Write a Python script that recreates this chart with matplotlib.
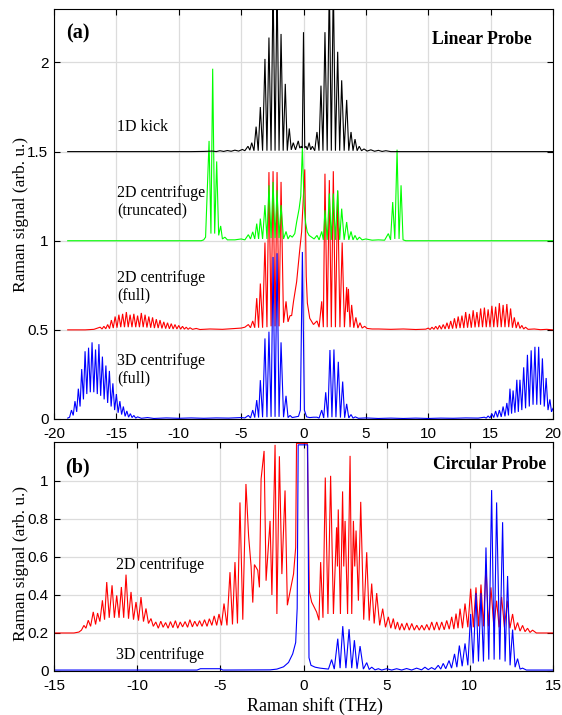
import matplotlib
matplotlib.use("Agg")
import matplotlib.pyplot as plt
import numpy as np
from matplotlib.ticker import FuncFormatter

plt.rcParams["axes.unicode_minus"] = False
plt.rcParams["font.family"] = ["Liberation Sans", "DejaVu Sans"]
SERIF = ["Liberation Serif", "DejaVu Serif"]

# ---- panel (a): linear probe, traces as (shift THz, signal) ----
kick_1d = [
    (-18.9, 1.5), (-9.0, 1.5), (-8.0, 1.501), (-7.3, 1.503), (-7.0, 1.5), (-6.7, 1.505),
    (-6.4, 1.501), (-6.1, 1.506), (-5.8, 1.502), (-5.5, 1.508), (-5.2, 1.503), (-4.9, 1.512),
    (-4.7, 1.505), (-4.45, 1.53), (-4.3, 1.508), (-4.15, 1.55), (-3.97, 1.505), (-3.80, 1.64),
    (-3.63, 1.505), (-3.46, 1.75), (-3.28, 1.505), (-3.09, 2.02), (-2.93, 1.505), (-2.77, 2.14),
    (-2.60, 1.505), (-2.44, 2.45), (-2.28, 1.505), (-2.12, 2.45), (-1.96, 1.505), (-1.80, 2.16),
    (-1.63, 1.505), (-1.46, 1.88), (-1.30, 1.505), (-1.14, 1.63), (-0.98, 1.51), (-0.82, 1.55),
    (-0.64, 1.51), (-0.42, 1.56), (-0.30, 1.52), (-0.18, 1.53), (-0.10, 1.52), (0.0, 2.17),
    (0.10, 1.52), (0.20, 1.53), (0.30, 1.51), (0.45, 1.55), (0.58, 1.51), (0.71, 1.53),
    (0.90, 1.505), (1.08, 1.61), (1.24, 1.505), (1.40, 1.87), (1.56, 1.505), (1.72, 2.17),
    (1.90, 1.505), (2.07, 2.45), (2.23, 1.505), (2.39, 2.45), (2.56, 1.505), (2.74, 2.06),
    (2.90, 1.505), (3.06, 1.90), (3.26, 1.505), (3.46, 1.79), (3.63, 1.505), (3.81, 1.61),
    (3.97, 1.505), (4.13, 1.57), (4.30, 1.505), (4.47, 1.53), (4.65, 1.505), (4.85, 1.515),
    (5.1, 1.503), (5.4, 1.51), (5.7, 1.502), (6.0, 1.507), (6.3, 1.501), (6.6, 1.505),
    (7.0, 1.5), (20.0, 1.5),
]

centrifuge_2d_trunc = [
    (-18.9, 1.0), (-8.2, 1.0), (-8.0, 1.005), (-7.85, 1.02), (-7.57, 1.56), (-7.42, 1.04),
    (-7.28, 1.965), (-7.12, 1.04), (-6.96, 1.445), (-6.80, 1.03), (-6.64, 1.083), (-6.50, 1.01),
    (-6.3, 1.02), (-6.1, 1.005), (-5.5, 1.005), (-5.0, 1.01), (-4.7, 1.005), (-4.42, 1.034),
    (-4.25, 1.01), (-4.07, 1.05), (-3.91, 1.01), (-3.75, 1.096), (-3.60, 1.01), (-3.46, 1.124),
    (-3.28, 1.01), (-3.09, 1.20), (-2.93, 1.01), (-2.77, 1.311), (-2.60, 1.015), (-2.44, 1.33),
    (-2.28, 1.015), (-2.12, 1.283), (-1.96, 1.015), (-1.80, 1.20), (-1.60, 1.01), (-1.40, 1.052),
    (-1.24, 1.01), (-1.08, 1.03), (-0.90, 1.02), (-0.70, 1.04), (-0.55, 1.105), (-0.35, 1.18),
    (-0.22, 1.25), (-0.09, 1.526), (0.05, 1.20), (0.17, 1.10), (0.30, 1.05), (0.45, 1.03),
    (0.65, 1.02), (0.85, 1.01), (1.08, 1.03), (1.25, 1.005), (1.46, 1.052), (1.59, 1.005),
    (1.72, 1.171), (1.90, 1.005), (2.07, 1.265), (2.23, 1.005), (2.39, 1.265), (2.56, 1.005),
    (2.74, 1.283), (2.90, 1.005), (3.06, 1.18), (3.26, 1.005), (3.46, 1.105), (3.63, 1.005),
    (3.81, 1.052), (3.97, 1.005), (4.13, 1.03), (4.30, 1.005), (4.48, 1.02), (4.70, 1.005),
    (5.0, 1.01), (5.5, 1.003), (6.0, 1.005), (6.5, 1.003), (6.80, 1.04), (6.98, 1.005),
    (7.15, 1.217), (7.32, 1.01), (7.50, 1.511), (7.66, 1.01), (7.82, 1.311), (7.98, 1.005),
    (8.2, 1.0), (20.0, 1.0),
]

centrifuge_2d_full = [
    (-18.9, 0.5), (-17.5, 0.5), (-16.8, 0.503), (-16.6, 0.508),
    (-16.30, 0.515), (-16.15, 0.505), (-16.00, 0.52), (-15.85, 0.506), (-15.70, 0.53),
    (-15.55, 0.507), (-15.40, 0.555), (-15.25, 0.51), (-15.10, 0.575), (-14.95, 0.512),
    (-14.80, 0.585), (-14.65, 0.515), (-14.50, 0.59), (-14.35, 0.515), (-14.20, 0.60),
    (-14.05, 0.515), (-13.90, 0.585), (-13.75, 0.515), (-13.60, 0.59), (-13.45, 0.515),
    (-13.30, 0.58), (-13.15, 0.515), (-13.00, 0.595), (-12.85, 0.515), (-12.70, 0.585),
    (-12.55, 0.513), (-12.40, 0.575), (-12.25, 0.512), (-12.10, 0.57), (-11.95, 0.51),
    (-11.80, 0.56), (-11.65, 0.51), (-11.50, 0.555), (-11.35, 0.508), (-11.20, 0.545),
    (-11.05, 0.507), (-10.90, 0.54), (-10.75, 0.506), (-10.60, 0.535), (-10.45, 0.505),
    (-10.30, 0.53), (-10.15, 0.505), (-10.00, 0.525), (-9.85, 0.504), (-9.70, 0.52),
    (-9.55, 0.504), (-9.40, 0.515), (-9.25, 0.503), (-9.10, 0.512), (-8.9, 0.503),
    (-8.6, 0.508), (-8.3, 0.502), (-7.5, 0.505), (-6.5, 0.503), (-5.5, 0.508), (-5.0, 0.51),
    (-4.7, 0.515), (-4.42, 0.53), (-4.25, 0.512), (-4.07, 0.55), (-3.91, 0.512), (-3.75, 0.678),
    (-3.60, 0.512), (-3.46, 0.76), (-3.28, 0.512), (-3.09, 0.99), (-2.93, 0.515), (-2.77, 1.385),
    (-2.60, 0.52), (-2.44, 1.39), (-2.28, 0.52), (-2.12, 1.385), (-1.96, 0.52), (-1.80, 1.33),
    (-1.60, 0.54), (-1.40, 0.66), (-1.24, 0.545), (-1.08, 0.58), (-0.95, 0.58), (-0.80, 0.66),
    (-0.55, 0.77), (-0.30, 0.95), (-0.15, 1.05), (0.10, 1.40), (0.22, 0.80), (0.31, 0.65),
    (0.50, 0.565), (0.80, 0.53), (1.08, 0.55), (1.25, 0.515), (1.46, 0.66), (1.59, 0.515),
    (1.72, 1.376), (1.90, 0.515), (2.07, 1.34), (2.23, 0.515), (2.39, 1.39), (2.56, 0.515),
    (2.74, 1.28), (2.92, 0.515), (3.10, 0.99), (3.28, 0.515), (3.46, 0.74), (3.53, 0.60),
    (3.60, 0.73), (3.73, 0.515), (3.86, 0.64), (4.03, 0.512), (4.20, 0.57), (4.36, 0.51),
    (4.53, 0.54), (4.7, 0.51), (4.9, 0.52), (5.1, 0.508), (5.5, 0.505), (6.0, 0.505),
    (7.0, 0.503), (8.0, 0.505), (9.0, 0.502), (9.8, 0.504),
    (10.00, 0.51), (10.15, 0.502), (10.30, 0.515), (10.45, 0.503), (10.60, 0.52),
    (10.75, 0.503), (10.90, 0.525), (11.05, 0.504), (11.20, 0.53), (11.35, 0.505),
    (11.50, 0.54), (11.65, 0.505), (11.80, 0.55), (11.95, 0.507), (12.10, 0.565),
    (12.25, 0.508), (12.40, 0.575), (12.55, 0.51), (12.70, 0.58), (12.85, 0.51), (13.00, 0.60),
    (13.15, 0.512), (13.30, 0.59), (13.45, 0.512), (13.60, 0.61), (13.75, 0.514), (13.90, 0.60),
    (14.05, 0.515), (14.20, 0.62), (14.35, 0.515), (14.50, 0.625), (14.65, 0.515),
    (14.80, 0.615), (14.95, 0.515), (15.10, 0.635), (15.25, 0.515), (15.40, 0.63),
    (15.55, 0.515), (15.70, 0.65), (15.85, 0.515), (16.00, 0.64), (16.15, 0.515),
    (16.30, 0.645), (16.45, 0.515), (16.60, 0.62), (16.75, 0.512), (16.90, 0.57),
    (17.05, 0.51), (17.20, 0.545), (17.35, 0.508), (17.50, 0.525), (17.65, 0.505),
    (17.80, 0.515), (18.0, 0.503), (18.5, 0.505), (19.0, 0.501), (19.5, 0.503), (20.0, 0.5),
]

centrifuge_3d_full = [
    (-18.9, 0.005), (-18.75, 0.01), (-18.60, 0.05), (-18.46, 0.02), (-18.32, 0.10),
    (-18.18, 0.04), (-18.05, 0.17), (-17.91, 0.07), (-17.78, 0.28), (-17.64, 0.11),
    (-17.51, 0.38), (-17.37, 0.14), (-17.23, 0.40), (-17.09, 0.15), (-16.95, 0.43),
    (-16.81, 0.15), (-16.67, 0.39), (-16.53, 0.14), (-16.40, 0.42), (-16.26, 0.13),
    (-16.12, 0.35), (-15.98, 0.11), (-15.84, 0.30), (-15.70, 0.09), (-15.56, 0.27),
    (-15.42, 0.07), (-15.28, 0.20), (-15.14, 0.05), (-15.00, 0.14), (-14.86, 0.035),
    (-14.72, 0.10), (-14.58, 0.025), (-14.44, 0.07), (-14.30, 0.015), (-14.16, 0.045),
    (-14.02, 0.01), (-13.88, 0.03), (-13.74, 0.008), (-13.60, 0.02), (-13.45, 0.005),
    (-13.30, 0.012), (-13.0, 0.004), (-12.5, 0.008), (-12.0, 0.003), (-11.0, 0.006),
    (-10.0, 0.004), (-9.0, 0.006), (-8.0, 0.004), (-7.0, 0.006), (-6.0, 0.005), (-5.0, 0.008),
    (-4.7, 0.006), (-4.42, 0.02), (-4.25, 0.006), (-4.07, 0.05), (-3.91, 0.008), (-3.75, 0.106),
    (-3.60, 0.008), (-3.46, 0.218), (-3.28, 0.01), (-3.09, 0.452), (-2.93, 0.01), (-2.77, 0.49),
    (-2.60, 0.012), (-2.44, 0.909), (-2.28, 0.012), (-2.12, 0.93), (-1.96, 0.012), (-1.80, 0.43),
    (-1.60, 0.01), (-1.40, 0.13), (-1.24, 0.008), (-1.08, 0.02), (-0.90, 0.008), (-0.60, 0.012),
    (-0.40, 0.015), (-0.25, 0.05), (-0.09, 0.937), (0.07, 0.05), (0.25, 0.012), (0.50, 0.008),
    (0.80, 0.01), (1.08, 0.01), (1.25, 0.005), (1.46, 0.05), (1.62, 0.006), (1.78, 0.15),
    (1.95, 0.008), (2.12, 0.387), (2.28, 0.01), (2.44, 0.39), (2.60, 0.01), (2.79, 0.321),
    (2.96, 0.008), (3.14, 0.21), (3.30, 0.007), (3.46, 0.085), (3.63, 0.006), (3.81, 0.025),
    (3.97, 0.005), (4.15, 0.012), (4.4, 0.004), (5.0, 0.006), (6.0, 0.003), (7.0, 0.005),
    (8.0, 0.003), (9.0, 0.005), (10.0, 0.003), (11.0, 0.005), (12.0, 0.004), (13.0, 0.006),
    (14.0, 0.005), (14.5, 0.01), (14.65, 0.005), (14.8, 0.017), (14.95, 0.006), (15.1, 0.03),
    (15.25, 0.008), (15.4, 0.045), (15.55, 0.01), (15.7, 0.05), (15.85, 0.012), (16.0, 0.07),
    (16.15, 0.015), (16.3, 0.09), (16.43, 0.02), (16.55, 0.17), (16.68, 0.03), (16.8, 0.16),
    (16.95, 0.035), (17.1, 0.22), (17.22, 0.04), (17.35, 0.22), (17.5, 0.05), (17.65, 0.29),
    (17.8, 0.06), (17.95, 0.36), (18.1, 0.07), (18.25, 0.385), (18.4, 0.08), (18.55, 0.405),
    (18.7, 0.08), (18.85, 0.405), (19.0, 0.08), (19.15, 0.34), (19.3, 0.07), (19.45, 0.23),
    (19.6, 0.05), (19.75, 0.11), (19.88, 0.04), (20.0, 0.06),
]

# ---- panel (b): circular probe ----
circ_2d = [
    (-15.0, 0.2), (-13.8, 0.2), (-13.5, 0.205), (-13.35, 0.215), (-13.2, 0.24), (-13.08, 0.225),
    (-12.94, 0.267), (-12.8, 0.235), (-12.64, 0.311), (-12.5, 0.245), (-12.38, 0.305),
    (-12.24, 0.26), (-12.09, 0.372), (-11.96, 0.27), (-11.83, 0.468), (-11.68, 0.28),
    (-11.51, 0.451), (-11.37, 0.28), (-11.23, 0.398), (-11.09, 0.28), (-10.95, 0.442),
    (-10.81, 0.28), (-10.67, 0.507), (-10.52, 0.275), (-10.37, 0.416), (-10.22, 0.27),
    (-10.07, 0.363), (-9.92, 0.265), (-9.77, 0.389), (-9.62, 0.26), (-9.47, 0.329),
    (-9.32, 0.25), (-9.17, 0.276), (-9.03, 0.235), (-8.88, 0.258), (-8.73, 0.225),
    (-8.58, 0.262), (-8.44, 0.23), (-8.29, 0.255), (-8.14, 0.225), (-8.0, 0.26), (-7.85, 0.228),
    (-7.7, 0.265), (-7.56, 0.225), (-7.41, 0.258), (-7.27, 0.232), (-7.12, 0.26), (-6.97, 0.23),
    (-6.83, 0.27), (-6.68, 0.232), (-6.54, 0.262), (-6.39, 0.235), (-6.25, 0.265), (-6.1, 0.235),
    (-5.95, 0.27), (-5.8, 0.235), (-5.66, 0.275), (-5.51, 0.24), (-5.37, 0.29), (-5.22, 0.24),
    (-5.08, 0.30), (-4.93, 0.24), (-4.78, 0.355), (-4.6, 0.24), (-4.42, 0.52), (-4.27, 0.245),
    (-4.12, 0.573), (-3.97, 0.25), (-3.82, 0.887), (-3.65, 0.27), (-3.46, 0.984), (-3.3, 0.71),
    (-3.15, 0.55), (-3.05, 0.36), (-2.95, 0.56), (-2.75, 0.53), (-2.65, 0.44), (-2.55, 1.01),
    (-2.37, 1.158), (-2.25, 0.475), (-2.01, 0.79), (-1.9, 0.40), (-1.71, 1.19), (-1.6, 0.30),
    (-1.45, 1.13), (-1.3, 0.51), (-1.11, 0.95), (-0.97, 0.346), (-0.8, 0.42), (-0.6, 0.51),
    (-0.47, 0.65), (-0.42, 1.198), (0.23, 1.198), (0.35, 0.42), (0.49, 0.363), (0.79, 0.31),
    (0.93, 0.267), (1.03, 0.573), (1.17, 0.28), (1.31, 1.018), (1.47, 0.30), (1.63, 1.027),
    (1.8, 0.30), (1.99, 0.756), (2.04, 0.55), (2.09, 0.85), (2.22, 0.30), (2.35, 0.945),
    (2.42, 0.55), (2.5, 0.79), (2.65, 0.30), (2.8, 1.132), (2.9, 0.30), (3.0, 0.79),
    (3.08, 0.55), (3.16, 0.739), (3.3, 0.37), (3.44, 0.89), (3.62, 0.27), (3.8, 0.625),
    (3.95, 0.265), (4.1, 0.46), (4.25, 0.25), (4.4, 0.41), (4.58, 0.24), (4.76, 0.328),
    (4.93, 0.23), (5.1, 0.285), (5.25, 0.225), (5.4, 0.276), (5.52, 0.22), (5.65, 0.258),
    (5.78, 0.215), (5.91, 0.25), (6.06, 0.215), (6.21, 0.253), (6.36, 0.215), (6.51, 0.25),
    (6.66, 0.215), (6.81, 0.241), (6.96, 0.215), (7.11, 0.241), (7.26, 0.215), (7.41, 0.245),
    (7.56, 0.215), (7.71, 0.258), (7.86, 0.215), (8.01, 0.258), (8.16, 0.215), (8.31, 0.258),
    (8.46, 0.217), (8.61, 0.266), (8.76, 0.22), (8.91, 0.285), (9.04, 0.22), (9.17, 0.302),
    (9.29, 0.225), (9.41, 0.328), (9.56, 0.225), (9.71, 0.355), (9.88, 0.23), (10.05, 0.433),
    (10.21, 0.23), (10.37, 0.44), (10.52, 0.235), (10.67, 0.455), (10.82, 0.235), (10.97, 0.56),
    (11.12, 0.235), (11.27, 0.44), (11.44, 0.235), (11.61, 0.37), (11.76, 0.23), (11.91, 0.39),
    (12.08, 0.23), (12.25, 0.37), (12.41, 0.225), (12.57, 0.30), (12.72, 0.215), (12.87, 0.255),
    (13.02, 0.21), (13.17, 0.24), (13.32, 0.207), (13.47, 0.225), (13.62, 0.203), (13.77, 0.215),
    (14.0, 0.2), (15.0, 0.2),
]

circ_3d = [
    (-15.0, 0.005), (-6.4, 0.005), (-6.2, 0.012), (-5.0, 0.012), (-4.85, 0.005), (-2.0, 0.006),
    (-1.6, 0.01), (-1.2, 0.022), (-0.9, 0.045), (-0.65, 0.09), (-0.47, 0.15), (-0.38, 0.33),
    (-0.32, 1.19), (0.25, 1.19), (0.33, 0.07), (0.45, 0.03), (0.7, 0.02), (1.0, 0.015),
    (1.3, 0.012), (1.5, 0.01), (1.69, 0.06), (1.85, 0.01), (2.06, 0.17), (2.2, 0.015),
    (2.36, 0.236), (2.55, 0.015), (2.74, 0.22), (2.9, 0.015), (3.06, 0.162), (3.22, 0.012),
    (3.40, 0.131), (3.6, 0.01), (3.8, 0.044), (3.95, 0.008), (4.1, 0.02), (4.3, 0.006),
    (4.5, 0.012), (4.7, 0.005), (5.0, 0.012), (5.3, 0.005), (5.6, 0.012), (5.9, 0.005),
    (6.2, 0.013), (6.5, 0.005), (6.8, 0.015), (7.1, 0.006), (7.3, 0.02), (7.5, 0.007),
    (7.7, 0.018), (7.9, 0.008), (8.1, 0.03), (8.25, 0.01), (8.4, 0.04), (8.55, 0.012),
    (8.75, 0.055), (8.9, 0.015), (9.08, 0.09), (9.22, 0.02), (9.37, 0.134), (9.54, 0.025),
    (9.71, 0.145), (9.88, 0.03), (10.05, 0.30), (10.2, 0.04), (10.37, 0.41), (10.52, 0.05),
    (10.67, 0.41), (10.82, 0.05), (10.97, 0.65), (11.14, 0.06), (11.31, 0.952), (11.46, 0.06),
    (11.61, 0.887), (11.8, 0.06), (11.97, 0.783), (12.12, 0.05), (12.27, 0.50), (12.42, 0.03),
    (12.57, 0.218), (12.72, 0.02), (12.87, 0.065), (13.02, 0.01), (13.17, 0.015), (13.4, 0.005),
    (15.0, 0.005),
]

top_labels = ["1D kick", "2D centrifuge\n(truncated)", "2D centrifuge\n(full)", "3D centrifuge\n(full)"]
top_label_y = [1.64, 1.22, 0.743, 0.275]
bottom_labels = ["2D centrifuge", "3D centrifuge"]
bottom_label_y = [0.556, 0.084]


def draw(ax, pts, color):
    x, y = np.array(pts).T
    ax.plot(x, y, color=color, lw=0.8, solid_joinstyle="miter")


def style(ax):
    ax.grid(True, color="#dcdcdc", lw=0.9)
    ax.set_axisbelow(True)
    ax.tick_params(direction="in", top=True, right=True, length=4, width=0.8,
                   labelsize=11)
    ax.tick_params(axis="x", pad=6)
    ax.tick_params(axis="y", pad=4)
    ax.yaxis.set_major_formatter(FuncFormatter(lambda v, p: f"{v:g}"))
    ax.xaxis.set_major_formatter(FuncFormatter(lambda v, p: f"{v:g}"))
    for s in ax.spines.values():
        s.set_linewidth(0.8)


fig = plt.figure(figsize=(5.62, 7.15), dpi=100)
ax_a = fig.add_axes([54 / 562, 1 - 419 / 715, 499 / 562, 410 / 715])
ax_b = fig.add_axes([54 / 562, 1 - 671 / 715, 499 / 562, 229 / 715])

# panel (a)
draw(ax_a, centrifuge_2d_full, "#ff0000")
draw(ax_a, centrifuge_2d_trunc, "#00ff00")
draw(ax_a, centrifuge_3d_full, "#0000ff")
draw(ax_a, kick_1d, "black")
ax_a.set_xlim(-20, 20)
ax_a.set_ylim(0, 2.3)
ax_a.set_xticks(np.arange(-20, 21, 5))
ax_a.set_yticks([0, 0.5, 1, 1.5, 2])
style(ax_a)
ax_a.set_ylabel("Raman signal (arb. u.)", family=SERIF, fontsize=12.5)
ax_a.yaxis.set_label_coords(-0.051, 0.5)
ax_a.text(-19.04, 2.16, "(a)", family=SERIF, fontweight="bold", fontsize=14.5, va="center")
ax_a.text(18.3, 2.13, "Linear Probe", family=SERIF, fontweight="bold", fontsize=12.7,
          va="center", ha="right")
for txt, yy in zip(top_labels, top_label_y):
    ax_a.text(-14.95, yy, txt, family=SERIF, fontsize=11.5, va="center", ha="left",
              linespacing=1.1)

# panel (b)
draw(ax_b, circ_2d, "#ff0000")
draw(ax_b, circ_3d, "#0000ff")
ax_b.set_xlim(-15, 15)
ax_b.set_ylim(0, 1.205)
ax_b.set_xticks(np.arange(-15, 16, 5))
ax_b.set_yticks([0, 0.2, 0.4, 0.6, 0.8, 1])
style(ax_b)
ax_b.set_ylabel("Raman signal (arb. u.)", family=SERIF, fontsize=12.5)
ax_b.yaxis.set_label_coords(-0.051, 0.47)
ax_b.set_xlabel("Raman shift (THz)", family=SERIF, fontsize=13)
ax_b.xaxis.set_label_coords(0.523, -0.112)
ax_b.text(-14.34, 1.07, "(b)", family=SERIF, fontweight="bold", fontsize=14.5, va="center")
ax_b.text(14.58, 1.085, "Circular Probe", family=SERIF, fontweight="bold", fontsize=12.7,
          va="center", ha="right")
for txt, yy in zip(bottom_labels, bottom_label_y):
    ax_b.text(-11.27, yy, txt, family=SERIF, fontsize=11.5, va="center", ha="left")

fig.savefig("out.png", dpi=100)
